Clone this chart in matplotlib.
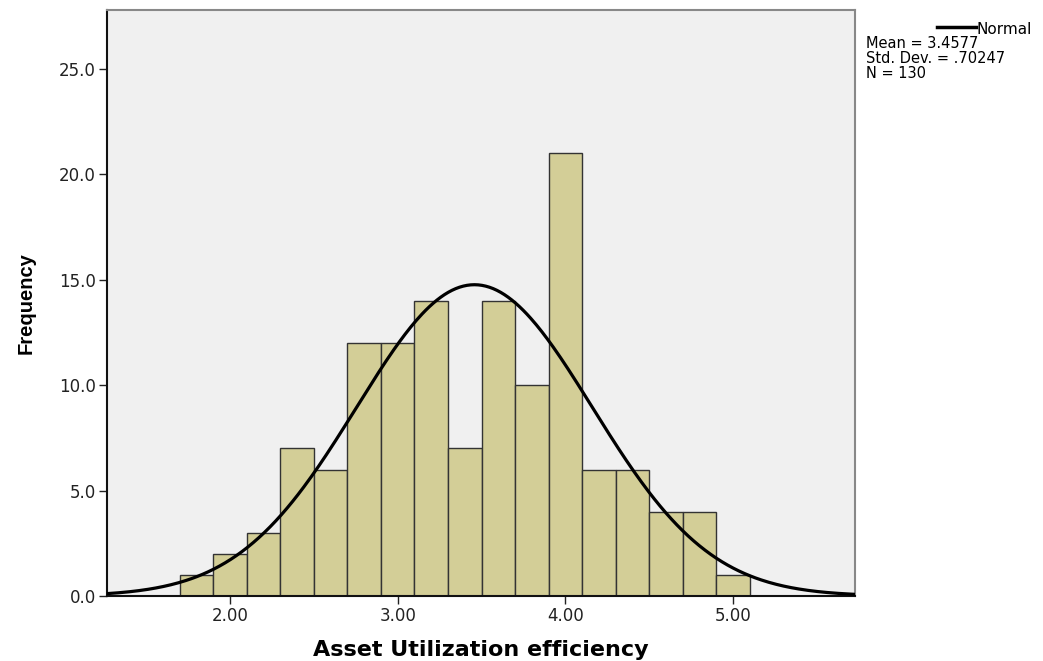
import numpy as np
import matplotlib
matplotlib.use("Agg")
from matplotlib import pyplot
from matplotlib.lines import Line2D

# histogram bins (left edges) and counts
bin_left = [1.7, 1.9, 2.1, 2.3, 2.5, 2.7, 2.9, 3.1, 3.3, 3.5, 3.7, 3.9, 4.1, 4.3, 4.5, 4.7, 4.9]
counts = [1, 2, 3, 7, 6, 12, 12, 14, 7, 14, 10, 21, 6, 6, 4, 4, 1]
bin_width = 0.2
mean = 3.4577
std = 0.70247
n = 130

x_ticks = [2.0, 3.0, 4.0, 5.0]
y_ticks = [0.0, 5.0, 10.0, 15.0, 20.0, 25.0]

pyplot.rcParams['font.family'] = ['DejaVu Sans']

figure = pyplot.figure(figsize=(10.43, 6.61), dpi=100)
axes = figure.add_axes([0.1026, 0.0983, 0.7172, 0.8867])
axes.set_facecolor('#F0F0F0')

axes.bar(bin_left, counts, width=bin_width, align='edge',
         color='#D3CE97', edgecolor='#333333', linewidth=1.0, zorder=2)

xs = np.linspace(1.267, 5.727, 400)
ys = n * bin_width * np.exp(-0.5 * ((xs - mean) / std) ** 2) / (std * np.sqrt(2 * np.pi))
axes.plot(xs, ys, color='black', linewidth=2.3, zorder=3)

axes.set_xlim(1.267, 5.727)
axes.set_ylim(0, 27.8)
axes.set_xticks(x_ticks)
axes.set_xticklabels(['%.2f' % t for t in x_ticks], fontsize=12, color='#333333')
axes.set_yticks(y_ticks)
axes.set_yticklabels(['%.1f' % t for t in y_ticks], fontsize=12, color='#333333')
axes.tick_params(direction='out', length=6, width=1, colors='#222222', pad=2)

for side in ['top', 'right']:
    axes.spines[side].set_color('#888888')
    axes.spines[side].set_linewidth(1.5)
for side in ['left', 'bottom']:
    axes.spines[side].set_color('#111111')
    axes.spines[side].set_linewidth(1.5)

axes.set_xlabel('Asset Utilization efficiency', fontsize=16, fontweight='bold', labelpad=11)
axes.set_ylabel('Frequency', fontsize=14.5, fontweight='bold', labelpad=17,
                family=['Liberation Sans', 'DejaVu Sans'])

# legend / stats box to the right of the plot
figure.add_artist(Line2D([937 / 1043, 976 / 1043], [1 - 27 / 661, 1 - 27 / 661],
                         color='black', linewidth=2.5, transform=figure.transFigure))
figure.text(977 / 1043, 1 - 30 / 661, 'Normal', fontsize=11, va='center', ha='left')
stats = ['Mean = 3.4577', 'Std. Dev. = .70247', 'N = 130']
for i, s in enumerate(stats):
    figure.text(866 / 1043, 1 - (44 + i * 14.5) / 661, s, fontsize=10.5, va='center', ha='left')

figure.savefig('out.png', dpi=100)
